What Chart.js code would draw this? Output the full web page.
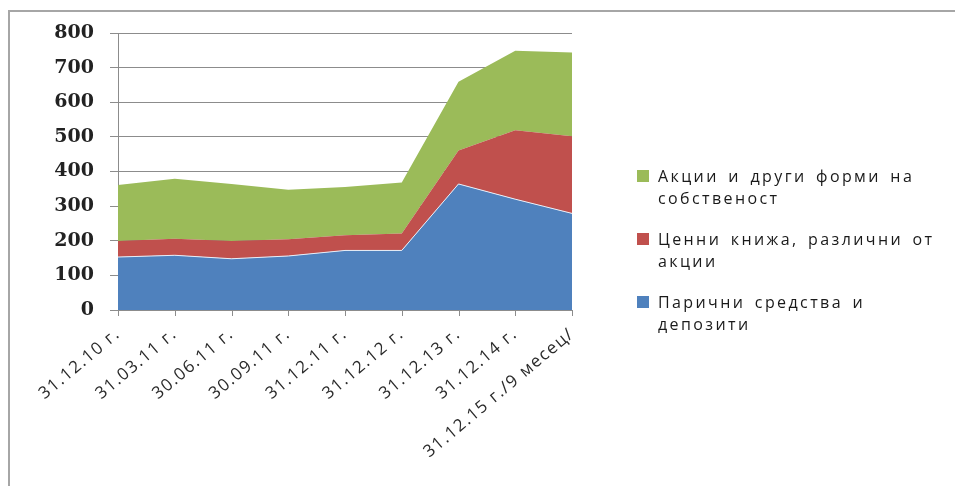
<!DOCTYPE html>
<html>
<head>
<meta charset="utf-8">
<script src="https://cdn.jsdelivr.net/npm/chart.js@4.4.0/dist/chart.umd.min.js"></script>
<style>
  html, body { margin: 0; padding: 0; background: #fff; }
  #wrap { position: relative; width: 955px; height: 486px; overflow: hidden; }
  #frame { position: absolute; left: 8px; top: 10px; width: 1000px; height: 520px; border: 2px solid #a6a6a6; box-sizing: border-box; }
  #myChart { position: absolute; left: 0; top: 0; }
  #legend { position: absolute; left: 637px; top: 165px; font-family: "Open Sans", sans-serif; font-size: 16px; color: #1a1a1a; letter-spacing: 2.4px; word-spacing: 3px; }
  .item { position: relative; padding-left: 21px; line-height: 22px; margin-bottom: 19px; }
  .box { position: absolute; left: 0; top: 5px; width: 12px; height: 12px; }
</style>
</head>
<body>
<div id="wrap">
  <div id="frame"></div>
  <canvas id="myChart" width="955" height="486"></canvas>
  <div id="legend"></div>
</div>
<script>
// Датите по оста X
const periodos = ['31.12.10 г.', '31.03.11 г.', '30.06.11 г.', '30.09.11 г.', '31.12.11 г.', '31.12.12 г.', '31.12.13 г.', '31.12.14 г.', '31.12.15 г./9 месец/'];

// Стойности по серии (приблизително от графиката)
const depozitos = [153, 158, 148, 156, 172, 172, 364, 320, 279];
const valores = [46, 48, 51, 48, 44, 49, 97, 199, 223];
const acciones = [162, 173, 165, 143, 139, 147, 198, 230, 242];

const yTicks = [0, 100, 200, 300, 400, 500, 600, 700, 800];

const ctx = document.getElementById('myChart').getContext('2d');

const myChart = new Chart(ctx, {
    type: 'line',
    data: {
        labels: periodos,
        datasets: [
            {
                label: 'Парични средства и\nдепозити',
                data: depozitos,
                backgroundColor: '#4f81bd',
                borderColor: '#e8eef8',
                borderWidth: 1,
                fill: 'origin'
            },
            {
                label: 'Ценни книжа, различни от\nакции',
                data: valores,
                backgroundColor: '#c0504d',
                borderColor: '#c0504d',
                borderWidth: 0,
                fill: '-1'
            },
            {
                label: 'Акции и други форми на\nсобственост',
                data: acciones,
                backgroundColor: '#9bbb59',
                borderColor: '#9bbb59',
                borderWidth: 0,
                fill: '-1'
            }
        ]
    },
    options: {
        responsive: false,
        animation: false,
        elements: { point: { radius: 0 }, line: { tension: 0 } },
        layout: { padding: { left: 0, right: 383, top: 33, bottom: 0 } },
        plugins: {
            legend: { display: false },
            tooltip: { enabled: false }
        },
        scales: {
            x: {
                offset: false,
                grid: { display: false },
                border: { color: '#8c8c8c', width: 1 },
                ticks: {
                    autoSkip: false,
                    minRotation: 40,
                    maxRotation: 40,
                    padding: 6,
                    color: '#2a2a2a',
                    font: { family: '"Open Sans", sans-serif', size: 17 }
                },
                afterFit: function (scale) { scale.height = 176; }
            },
            y: {
                stacked: true,
                min: 0,
                max: 800,
                afterBuildTicks: function (scale) { scale.ticks = yTicks.map(v => ({ value: v })); },
                grid: { color: '#8c8c8c', lineWidth: 1, tickLength: 8 },
                border: { color: '#8c8c8c', width: 1 },
                ticks: {
                    z: 1,
                    padding: 16,
                    color: '#222',
                    font: { family: '"DejaVu Serif", serif', size: 19, weight: 'bold' }
                },
                afterFit: function (scale) { scale.width = 118; }
            }
        }
    },
    plugins: [{
        id: 'xTickMarks',
        beforeDraw: function (chart) {
            // etiquetas del eje X un poco espaciadas
            chart.ctx.letterSpacing = '1.5px';
        },
        afterDatasetsDraw: function (chart) {
            chart.ctx.letterSpacing = '0px';
        },
        afterDraw: function (chart) {
            const c = chart.ctx;
            const xs = chart.scales.x;
            const bottom = chart.chartArea.bottom;
            c.save();
            c.strokeStyle = '#8c8c8c';
            c.lineWidth = 1;
            periodos.forEach((p, i) => {
                const x = Math.round(xs.getPixelForValue(i)) + 0.5;
                c.beginPath();
                c.moveTo(x, bottom);
                c.lineTo(x, bottom + 6);
                c.stroke();
            });
            c.restore();
        }
    }]
});

// Легенда отдясно, в обратен ред както в Excel
function dibujarLeyenda() {
    const leg = document.getElementById('legend');
    const ds = myChart.data.datasets.slice().reverse();
    ds.forEach(d => {
        const item = document.createElement('div');
        item.className = 'item';
        const box = document.createElement('span');
        box.className = 'box';
        box.style.background = d.backgroundColor;
        item.appendChild(box);
        d.label.split('\n').forEach((t, i) => {
            if (i > 0) item.appendChild(document.createElement('br'));
            item.appendChild(document.createTextNode(t));
        });
        leg.appendChild(item);
    });
}
dibujarLeyenda();
</script>
</body>
</html>
